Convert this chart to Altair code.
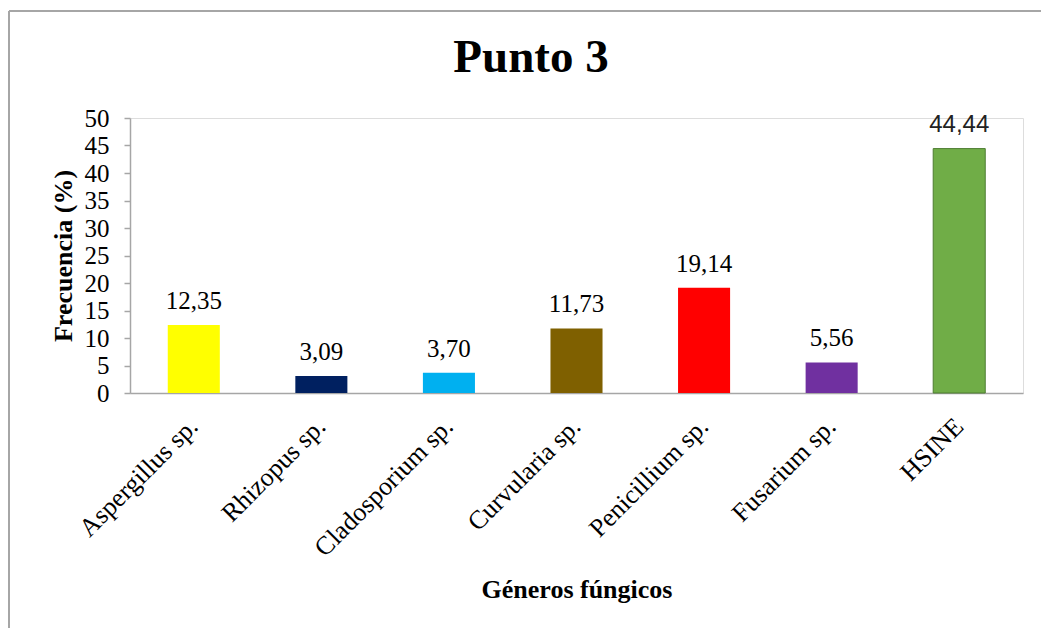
import altair as alt
import pandas as pd

categories = ["Aspergillus sp.", "Rhizopus sp.", "Cladosporium sp.", "Curvularia sp.",
              "Penicillium sp.", "Fusarium sp.", "HSINE"]
values = [12.35, 3.09, 3.70, 11.73, 19.14, 5.56, 44.44]
colors = ["#FFFF00", "#002060", "#00B0F0", "#7F6000", "#FF0000", "#7030A0", "#70AD47"]
y_ticks = [0, 5, 10, 15, 20, 25, 30, 35, 40, 45, 50]
chart_title = "Punto 3"

df = pd.DataFrame({"genero": categories, "frecuencia": values})

SERIF = "'Liberation Serif', 'Times New Roman', 'DejaVu Serif', serif"

x_enc = alt.X("genero:N", sort=categories,
              scale=alt.Scale(paddingInner=0.592, paddingOuter=0.296),
              axis=alt.Axis(title="Géneros fúngicos", labelAngle=-45, labelAlign="right",
                            labelBaseline="middle", labelPadding=29, ticks=False,
                            labelFont=SERIF, labelFontSize=26, labelColor="#000000",
                            titleFont=SERIF, titleFontSize=26, titleFontWeight="bold",
                            titleColor="#000000", titleY=204, titleBaseline="alphabetic",
                            domainColor="#A6A6A6", domainWidth=1.5, labelLimit=400))
y_enc = alt.Y("frecuencia:Q", scale=alt.Scale(domain=[0, 50], nice=False),
              axis=alt.Axis(title="Frecuencia (%)", values=y_ticks, grid=False,
                            labelOverlap=False,
                            tickSize=6, tickColor="#A6A6A6", tickWidth=1.5,
                            domainColor="#A6A6A6", domainWidth=1.5,
                            labelFont=SERIF, labelFontSize=25, labelColor="#000000",
                            labelPadding=15,
                            titleFont=SERIF, titleFontSize=26, titleFontWeight="bold",
                            titleColor="#000000", titleX=-67, titleBaseline="middle"))

base = alt.Chart(df).encode(x=x_enc, y=y_enc).transform_calculate(
    lbl="replace(format(datum.frecuencia, '.2f'), '.', ',')")
one = alt.Chart(pd.DataFrame({"t": [chart_title]}))

frame_top = one.mark_rule(color="#A6A6A6", strokeWidth=2).encode(
    x=alt.value(-121), x2=alt.value(911), y=alt.value(-107))
frame_left = one.mark_rule(color="#A6A6A6", strokeWidth=2).encode(
    x=alt.value(-121), y=alt.value(-107), y2=alt.value(520))

title = one.mark_text(font=SERIF, fontSize=47, fontWeight="bold", baseline="alphabetic",
                      align="center", color="#000000").encode(
    x=alt.value(401), y=alt.value(-46), text="t:N")

bars = base.mark_bar().encode(
    color=alt.Color("genero:N", scale=alt.Scale(domain=categories, range=colors), legend=None),
    stroke=alt.condition(alt.datum.genero == "HSINE", alt.value("#4E7D32"), alt.value("transparent")),
    strokeWidth=alt.value(1),
)

labels = base.transform_filter(alt.datum.genero != "HSINE").mark_text(
    font=SERIF, fontSize=25, baseline="alphabetic", dy=-16, color="#000000"
).encode(text="lbl:N")

labels_sans = base.transform_filter(alt.datum.genero == "HSINE").mark_text(
    font="'Liberation Sans', Arial, sans-serif", fontSize=24, baseline="alphabetic", dy=-17,
    color="#222222"
).encode(text="lbl:N")

chart = alt.layer(frame_top, frame_left, title, bars, labels, labels_sans).properties(
    width=893, height=275,
    autosize="none",
    padding={"left": 130, "top": 118, "right": 18, "bottom": 235},
).configure_view(fill="#EAEEE8", stroke="transparent").configure_axis(
    labelFont=SERIF, titleFont=SERIF
).configure(background="#FFFFFF")

chart.save("out.html", embed_options={"renderer": "svg", "actions": False})
